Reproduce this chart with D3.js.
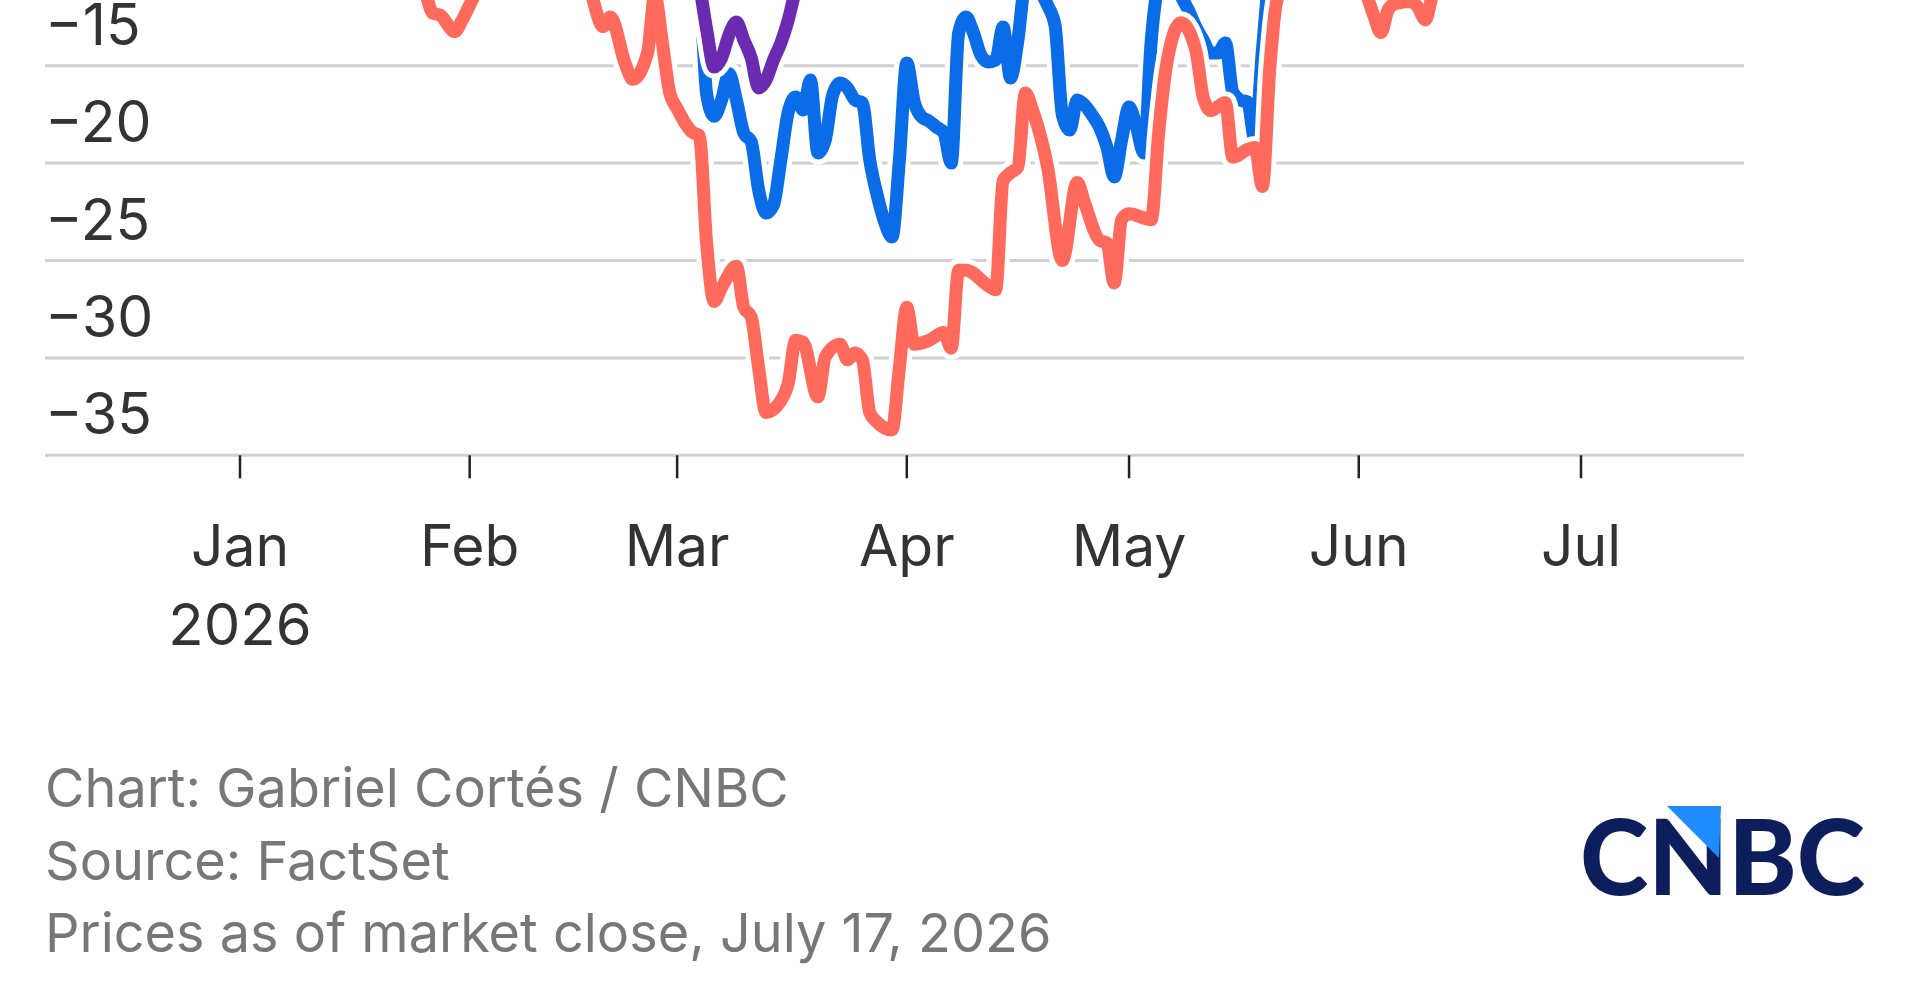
<!DOCTYPE html>
<html lang="en">
<head>
<meta charset="utf-8">
<title>Stocks vs. peak, 2026</title>
<script src="https://cdn.jsdelivr.net/npm/d3@7"></script>
<style>
  body { margin: 0; background: #fff; }
  svg { display: block; }
  .tick-label { font-family: Inter, Lato, sans-serif; fill: #333; }
  .note { font-family: Inter, Lato, sans-serif; fill: #777; }
</style>
</head>
<body>
<div id="viz"></div>
<script>
// DATA (the top of the chart is cropped, so values above about -11.6 are not visible)
var redDates = ["2026-01-02","2026-01-12","2026-01-20","2026-01-26","2026-01-27","2026-01-28","2026-01-30","2026-01-31",
  "2026-02-02","2026-02-09","2026-02-17","2026-02-19","2026-02-20","2026-02-22","2026-02-23","2026-02-25","2026-02-26",
  "2026-02-27","2026-02-28","2026-03-01","2026-03-02","2026-03-03","2026-03-04","2026-03-05","2026-03-06","2026-03-07",
  "2026-03-09","2026-03-10","2026-03-11","2026-03-12","2026-03-13","2026-03-15","2026-03-16","2026-03-17","2026-03-18",
  "2026-03-20","2026-03-21","2026-03-23","2026-03-24","2026-03-25","2026-03-26","2026-03-27","2026-03-28","2026-03-30",
  "2026-03-31","2026-04-01","2026-04-02","2026-04-04","2026-04-06","2026-04-07","2026-04-08","2026-04-09","2026-04-12",
  "2026-04-13","2026-04-14","2026-04-15","2026-04-16","2026-04-17","2026-04-18","2026-04-20","2026-04-22","2026-04-24",
  "2026-04-25","2026-04-27","2026-04-28","2026-04-29","2026-04-30","2026-05-01","2026-05-04","2026-05-05","2026-05-06",
  "2026-05-08","2026-05-10","2026-05-11","2026-05-12","2026-05-14","2026-05-15","2026-05-17","2026-05-18","2026-05-19",
  "2026-05-20","2026-05-21","2026-05-27","2026-06-02","2026-06-03","2026-06-04","2026-06-05","2026-06-06","2026-06-08",
  "2026-06-09","2026-06-10","2026-06-11","2026-06-16","2026-07-17"];
var redValues = [-6.0,-8.0,-9.6,-11.3,-12.3,-12.4,-13.25,-12.65,
  -11.2,-9.5,-11.0,-13.0,-12.5,-14.9,-15.7,-14.35,-11.4,
  -13.8,-16.4,-17.2,-17.9,-18.4,-18.6,-24.2,-27.1,-26.4,
  -25.3,-27.4,-27.9,-30.5,-32.8,-32.2,-31.3,-29.1,-29.2,
  -32.0,-29.95,-29.3,-30.1,-29.75,-30.1,-32.8,-33.3,-33.7,
  -30.5,-27.4,-29.3,-29.1,-28.7,-29.5,-25.5,-25.5,-26.3,
  -26.5,-20.9,-20.5,-20.2,-16.4,-17.3,-20.2,-25.0,-21.0,
  -22.05,-23.95,-24.1,-26.15,-22.9,-22.6,-22.9,-18.45,-15.1,
  -12.8,-14.2,-16.6,-17.3,-16.9,-19.7,-19.3,-19.2,-21.2,
  -15.1,-11.6,-8.5,-11.3,-12.4,-13.3,-12.1,-11.8,-11.7,
  -12.0,-12.65,-11.3,-9.0,-8.0];

var blueDates = ["2026-01-02","2026-02-02","2026-03-01","2026-03-03","2026-03-04","2026-03-05","2026-03-06","2026-03-07",
  "2026-03-08","2026-03-09","2026-03-10","2026-03-11","2026-03-12","2026-03-13","2026-03-14","2026-03-15","2026-03-16",
  "2026-03-17","2026-03-18","2026-03-19","2026-03-20","2026-03-21","2026-03-22","2026-03-23","2026-03-24","2026-03-25",
  "2026-03-26","2026-03-27","2026-03-28","2026-03-29","2026-03-30","2026-03-31","2026-04-01","2026-04-02","2026-04-03",
  "2026-04-04","2026-04-05","2026-04-06","2026-04-07","2026-04-08","2026-04-09","2026-04-10","2026-04-11","2026-04-12",
  "2026-04-13","2026-04-14","2026-04-15","2026-04-16","2026-04-17","2026-04-18","2026-04-19","2026-04-20","2026-04-21",
  "2026-04-22","2026-04-23","2026-04-24","2026-04-25","2026-04-26","2026-04-27","2026-04-28","2026-04-29","2026-04-30",
  "2026-05-01","2026-05-02","2026-05-03","2026-05-04","2026-05-05","2026-05-06","2026-05-07","2026-05-08","2026-05-09",
  "2026-05-10","2026-05-11","2026-05-12","2026-05-13","2026-05-14","2026-05-15","2026-05-16","2026-05-17","2026-05-18",
  "2026-05-19","2026-05-20","2026-06-01","2026-07-17"];
var blueValues = [-3.0,-6.0,-9.0,-10.5,-11.1,-16.5,-17.6,-16.76,
  -15.4,-16.76,-18.45,-18.9,-21.38,-22.56,-22.15,-19.84,-17.38,
  -16.61,-17.27,-15.73,-19.48,-18.81,-16.5,-15.89,-16.14,-16.76,
  -16.91,-19.84,-21.64,-23.02,-23.79,-19.84,-14.86,-16.86,-17.63,
  -17.84,-18.15,-18.45,-20.0,-13.32,-12.5,-13.32,-14.45,-14.81,
  -14.71,-13.01,-15.63,-13.68,-10.6,-10.0,-11.1,-11.9,-12.91,
  -17.53,-18.3,-16.76,-17.02,-17.53,-18.15,-19.17,-20.71,-18.81,
  -17.12,-18.15,-19.48,-13.68,-10.6,-9.5,-10.0,-11.37,-12.14,
  -13.01,-13.68,-14.35,-14.35,-13.83,-16.35,-16.76,-16.86,-18.81,
  -14.2,-10.6,-8.0,-5.0];

var purpleDates = ["2026-01-02","2026-02-02","2026-03-02","2026-03-04","2026-03-05","2026-03-06","2026-03-07","2026-03-08",
  "2026-03-09","2026-03-10","2026-03-11","2026-03-12","2026-03-13","2026-03-14","2026-03-15","2026-03-16","2026-03-17",
  "2026-03-20","2026-07-17"];
var purpleValues = [-2.0,-5.0,-8.0,-10.86,-13.17,-15.07,-14.6,-13.42,
  -12.76,-13.68,-14.6,-16.14,-15.73,-14.71,-13.83,-12.65,-11.1,
  -9.0,-3.0];

var gridValues = [0, -5, -10, -15, -20, -25, -30, -35];
var yLabels = [-15, -20, -25, -30, -35];
var monthTicks = ["2026-01-01","2026-02-01","2026-03-01","2026-04-01","2026-05-01","2026-06-01","2026-07-01"];
var monthLabels = ["Jan","Feb","Mar","Apr","May","Jun","Jul"];
var notes = ["Chart: Gabriel Cortés / CNBC", "Source: FactSet", "Prices as of market close, July 17, 2026"];

(function(d3) {

  var W = 1910, H = 1000;
  var left = 45, right = 1744;   // gridline extent
  var parse = d3.timeParse("%Y-%m-%d");

  // SCALES
  // the picture is a crop: the plot continues above the top edge
  var x = d3.scaleTime()
      .domain([parse("2026-01-01"), parse("2026-07-01")])
      .range([240, 1581]);
  var y = d3.scaleLinear()
      .domain([-35, 0])
      .range([455.3, -226.5]);

  var svg = d3.select("#viz").append("svg")
      .attr("width", W)
      .attr("height", H);

  // GRIDLINES + Y LABELS
  var grid = svg.append("g");
  grid.selectAll("line")
    .data(gridValues)
    .enter()
    .append("line")
    .attr("x1", left).attr("x2", right)
    .attr("y1", function(d){ return y(d); })
    .attr("y2", function(d){ return y(d); })
    .attr("stroke", "#d0d0d0")
    .attr("stroke-width", 3);

  grid.selectAll("text")
    .data(yLabels)
    .enter()
    .append("text")
    .attr("class", "tick-label")
    .attr("x", left)
    .attr("y", function(d){ return y(d) - 21; })
    .attr("font-size", 57)
    .text(function(d){ return "\u2212" + Math.abs(d); });

  // X AXIS
  var xAxis = svg.append("g");
  xAxis.selectAll("line")
    .data(monthTicks)
    .enter()
    .append("line")
    .attr("x1", function(d){ return x(parse(d)); })
    .attr("x2", function(d){ return x(parse(d)); })
    .attr("y1", y(-35))
    .attr("y2", y(-35) + 23)
    .attr("stroke", "#222")
    .attr("stroke-width", 2.5);

  xAxis.selectAll("text.month")
    .data(monthTicks)
    .enter()
    .append("text")
    .attr("class", "tick-label month")
    .attr("x", function(d){ return x(parse(d)); })
    .attr("y", 566)
    .attr("text-anchor", "middle")
    .attr("font-size", 57)
    .text(function(d, i){ return monthLabels[i]; });

  xAxis.append("text")
    .attr("class", "tick-label")
    .attr("x", x(parse(monthTicks[0])))
    .attr("y", 645)
    .attr("text-anchor", "middle")
    .attr("font-size", 58)
    .text("2026");

  // LINES
  var line = d3.line()
      .x(function(d){ return x(d.date); })
      .y(function(d){ return y(d.value); })
      .curve(d3.curveMonotoneX);

  function zipSeries(dates, values) {
    return dates.map(function(d, i){ return { date: parse(d), value: values[i] }; });
  }

  var series = [
    { color: "#0a6ce6", data: zipSeries(blueDates, blueValues) },
    { color: "#6b2bb1", data: zipSeries(purpleDates, purpleValues) },
    { color: "#ff6a5c", data: zipSeries(redDates, redValues) }
  ];

  var lines = svg.append("g");
  series.forEach(function(s) {
    lines.append("path")
      .attr("d", line(s.data))
      .attr("fill", "none")
      .attr("stroke", "#fff")
      .attr("stroke-width", 23)
      .attr("stroke-linejoin", "round")
      .attr("stroke-linecap", "round");
    lines.append("path")
      .attr("d", line(s.data))
      .attr("fill", "none")
      .attr("stroke", s.color)
      .attr("stroke-width", 13)
      .attr("stroke-linejoin", "round")
      .attr("stroke-linecap", "round");
  });

  // FOOTER
  svg.append("g").selectAll("text")
    .data(notes)
    .enter()
    .append("text")
    .attr("class", "note")
    .attr("x", left)
    .attr("y", function(d, i){ return 807 + i * 72.5; })
    .attr("font-size", 54)
    .text(function(d){ return d; });

  // LOGO
  var logo = svg.append("g");
  logo.append("text")
    .attr("x", 1580)
    .attr("y", 895)
    .attr("font-family", "Lato, sans-serif")
    .attr("font-weight", 900)
    .attr("font-size", 104)
    .attr("fill", "#0c1f5c")
    .attr("textLength", 285)
    .attr("lengthAdjust", "spacingAndGlyphs")
    .text("CNBC");
  logo.append("path")
    .attr("d", "M1667,806 L1721,806 L1719,858 Z")
    .attr("fill", "#1f8bff");

})(d3);
</script>
</body>
</html>
